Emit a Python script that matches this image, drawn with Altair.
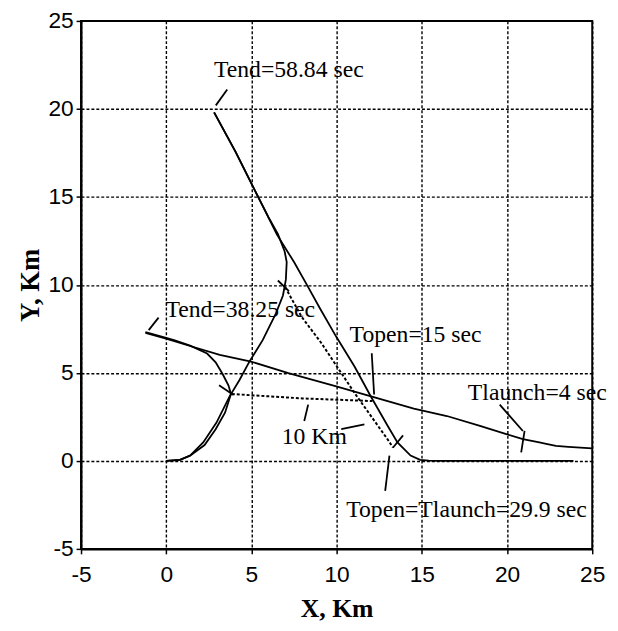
import altair as alt
import pandas as pd

# ---- data (km) ----
target1_x = [23.9, 20.0, 16.0, 15.4, 14.9, 14.34, 13.57, 13.0, 12.0, 11.05, 9.98, 9.0, 8.33, 7.5, 6.49, 5.62, 5.04, 4.07, 2.81]
target1_y = [0.0, 0.0, 0.0, 0.01, 0.06, 0.3, 1.05, 1.98, 3.67, 5.36, 7.05, 8.7, 9.87, 11.3, 12.87, 14.56, 15.68, 17.56, 19.8]

pursuer1_x = [0.0, 0.81, 1.4, 2.17, 2.95, 3.72, 4.3, 4.88, 5.66, 6.43, 6.85, 7.02, 7.07, 6.95, 6.55, 6.0, 5.5, 5.04, 4.07, 2.81]
pursuer1_y = [0.0, 0.06, 0.3, 1.05, 2.18, 3.67, 4.6, 5.64, 6.86, 8.37, 9.4, 10.3, 11.3, 11.9, 12.9, 13.85, 14.8, 15.68, 17.56, 19.8]

target2_x = [25.0, 23.6, 22.87, 22.3, 21.9, 20.93, 19.96, 18.41, 16.47, 14.53, 12.02, 9.98, 7.17, 4.98, 3.14, 1.4, -0.06, -1.22]
target2_y = [0.71, 0.8, 0.86, 0.97, 1.05, 1.24, 1.52, 1.99, 2.55, 2.97, 3.67, 4.24, 4.99, 5.64, 6.02, 6.53, 6.96, 7.28]

pursuer2_x = [0.0, 0.81, 1.4, 2.25, 2.9, 3.45, 3.8, 3.65, 3.3, 2.9, 2.4, 1.4, 0.5, -0.06, -1.22]
pursuer2_y = [0.0, 0.06, 0.3, 0.9, 1.8, 2.74, 3.8, 4.3, 4.95, 5.6, 6.1, 6.55, 6.85, 7.0, 7.32]

sep_a_x = [3.85, 8.0, 12.1]
sep_a_y = [3.8, 3.55, 3.4]

sep_b_x = [6.98, 7.95, 9.1, 11.05, 12.98, 13.3]
sep_b_y = [9.87, 8.18, 6.7, 3.86, 1.24, 0.77]

# short pointer / marker segments: (x1, y1, x2, y2)
seg_x1 = [2.91, -1.03, 12.06, 8.33, 10.27, 13.1, 19.57, 21.03, 3.1, 6.55, 13.3]
seg_y1 = [20.2, 7.43, 6.12, 3.2, 1.8, 0.3, 3.2, 1.7, 4.3, 10.25, 0.75]
seg_x2 = [3.58, -0.45, 12.2, 8.1, 11.63, 12.85, 20.93, 20.83, 3.95, 7.2, 13.9]
seg_y2 = [21.1, 8.14, 3.77, 2.27, 2.08, -1.7, 1.7, 0.49, 3.75, 9.65, 1.45]

label_text = ["Tend=58.84 sec", "Tend=38.25 sec", "Topen=15 sec", "10 Km",
              "Topen=Tlaunch=29.9 sec", "Tlaunch=4 sec"]
label_x = [2.8, -0.05, 10.76, 6.78, 10.56, 17.7]
label_y = [22.2, 8.55, 7.15, 1.33, -2.8, 3.87]

ticks = [-5, 0, 5, 10, 15, 20, 25]

# ---- tables ----
rows = []
for name, xs, ys, style in [("t1", target1_x, target1_y, "solid"),
                            ("p1", pursuer1_x, pursuer1_y, "solid"),
                            ("t2", target2_x, target2_y, "solid"),
                            ("p2", pursuer2_x, pursuer2_y, "solid"),
                            ("da", sep_a_x, sep_a_y, "dot"),
                            ("db", sep_b_x, sep_b_y, "dot")]:
    for i, (xv, yv) in enumerate(zip(xs, ys)):
        rows.append({"x": xv, "y": yv, "id": name, "ord": i, "style": style})
paths = pd.DataFrame(rows)
segs = pd.DataFrame({"x": seg_x1, "y": seg_y1, "x2": seg_x2, "y2": seg_y2})
labels = pd.DataFrame({"x": label_x, "y": label_y, "t": label_text})

xscale = alt.Scale(domain=[-5, 25], nice=False, zero=False)
yscale = alt.Scale(domain=[-5, 25], nice=False, zero=False)

common_axis = dict(
    values=ticks, grid=True, gridColor="black", gridDash=[3, 2], gridOpacity=1,
    gridWidth=1.4, domainColor="black", domainWidth=2, tickColor="black",
    tickSize=5, tickWidth=1.5, labelFont="Liberation Sans", labelFontSize=23,
    labelColor="black", labelFlush=False, labelExpr="toString(datum.value)",
    titleFont="Liberation Serif", titleFontWeight="bold",
    titleColor="black",
)

xaxis = alt.Axis(title="X, Km", labelPadding=10, titlePadding=9, titleFontSize=26, **common_axis)
yaxis = alt.Axis(title="Y, Km", labelPadding=3, titlePadding=4, titleFontSize=27, **common_axis)

base = alt.Chart(paths)
solid = base.transform_filter(alt.datum.style == "solid").mark_line(
    color="black", strokeWidth=1.8
).encode(
    x=alt.X("x:Q", scale=xscale, axis=xaxis),
    y=alt.Y("y:Q", scale=yscale, axis=yaxis),
    detail="id:N", order="ord:Q",
)
dotted = base.transform_filter(alt.datum.style == "dot").mark_line(
    color="black", strokeWidth=2, strokeDash=[3, 2]
).encode(
    x=alt.X("x:Q", scale=xscale), y=alt.Y("y:Q", scale=yscale),
    detail="id:N", order="ord:Q",
)
pointers = alt.Chart(segs).mark_rule(color="black", strokeWidth=1.8).encode(
    x=alt.X("x:Q", scale=xscale), y=alt.Y("y:Q", scale=yscale),
    x2="x2:Q", y2="y2:Q",
)
texts = alt.Chart(labels).mark_text(
    align="left", baseline="middle", font="Liberation Serif", fontSize=24,
    color="black"
).encode(
    x=alt.X("x:Q", scale=xscale), y=alt.Y("y:Q", scale=yscale), text="t:N"
)

chart = alt.layer(solid, dotted, pointers, texts).properties(
    width=518, height=535,
    padding={"left": 74, "top": 9, "right": 18, "bottom": 71},
    autosize="none",
    background="white",
).configure_view(stroke="black", strokeWidth=2)

chart.save("out.html", embed_options={"renderer": "svg", "actions": False})
